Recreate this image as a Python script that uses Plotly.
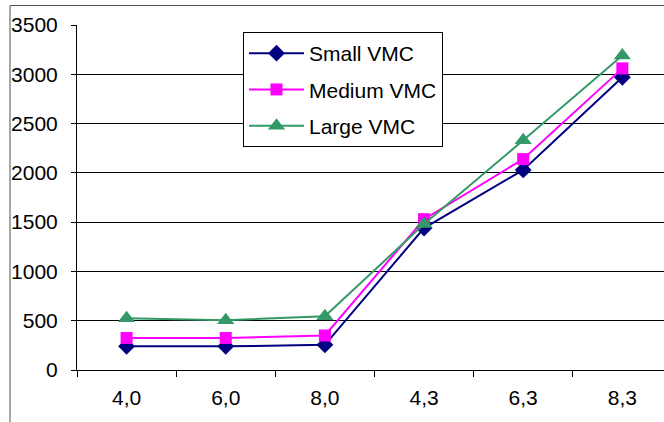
import plotly.graph_objects as go

# Configurations on the category axis
categories = ["4,0", "6,0", "8,0", "4,3", "6,3", "8,3"]

# Measured values per VMC size
small_vmc = [240, 240, 255, 1440, 2030, 2970]
medium_vmc = [325, 325, 350, 1530, 2140, 3060]
large_vmc = [525, 505, 545, 1480, 2330, 3190]

y_ticks = [0, 500, 1000, 1500, 2000, 2500, 3000, 3500]

FONT = "Liberation Sans, Arial, sans-serif"
FS = 21

series = [
    ("Small VMC", small_vmc, "#000080", "diamond", 13),
    ("Medium VMC", medium_vmc, "#FF00FF", "square", 12),
    ("Large VMC", large_vmc, "#339966", "triangle-up", 15),
]

fig = go.Figure()
for i, (name, vals, color, symbol, size) in enumerate(series):
    fig.add_trace(go.Scatter(
        x=categories, y=vals, name=name, mode="lines+markers",
        line=dict(color=color, width=2),
        marker=dict(symbol=symbol, size=size, color=color, line=dict(width=0)),
        legendgroup=f"g{i}",
        cliponaxis=False,
    ))

# Plot area geometry in pixels
W, H = 664, 422
L, R, T, B = 77, 0, 25, 52
pw, ph = W - L - R, H - T - B

def px_x(x):
    return (x - L) / pw

def px_y(y):
    return (H - B - y) / ph

fig.update_layout(
    width=W, height=H,
    margin=dict(l=L, r=R, t=T, b=B, pad=0),
    paper_bgcolor="white", plot_bgcolor="white",
    font=dict(family=FONT, size=FS, color="black"),
    showlegend=True,
    legend=dict(
        x=px_x(243), y=px_y(32), xanchor="left", yanchor="top",
        bgcolor="white", bordercolor="black", borderwidth=1,
        font=dict(family=FONT, size=FS, color="black"),
        traceorder="grouped", tracegroupgap=6,
        itemwidth=55,
    ),
    xaxis=dict(
        type="category", range=[-0.5, 5.42],
        showgrid=False, showline=True, linecolor="black", linewidth=1,
        ticks="outside", ticklen=6, tickcolor="black", tickwidth=1,
        tickson="boundaries", ticklabelstandoff=9,
        tickfont=dict(family=FONT, size=FS, color="black"),
        zeroline=False,
    ),
    yaxis=dict(
        range=[0, 3500], tickvals=y_ticks,
        showgrid=True, gridcolor="black", gridwidth=1,
        showline=True, linecolor="black", linewidth=1,
        ticks="outside", ticklen=5, tickcolor="black", tickwidth=1,
        ticklabelstandoff=9,
        tickfont=dict(family=FONT, size=FS, color="black"),
        zeroline=False,
    ),
    shapes=[
        dict(type="rect", xref="paper", yref="paper",
             x0=px_x(10), x1=px_x(700), y0=px_y(460), y1=px_y(5.5),
             line=dict(color="#505050", width=1), fillcolor="rgba(0,0,0,0)",
             layer="below"),
    ],
)

fig.write_html("out.html")
